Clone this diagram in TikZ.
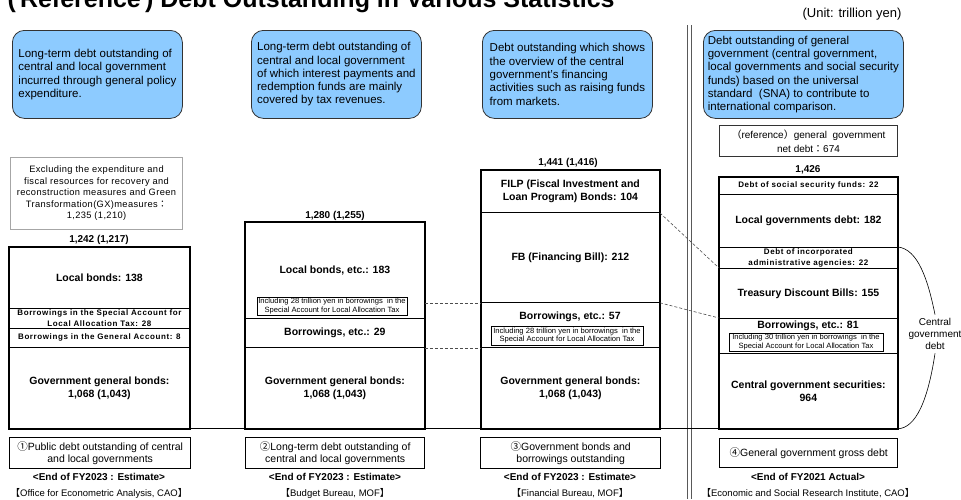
\documentclass[tikz,border=0pt]{standalone}
\usepackage{fontspec}
\setmainfont{Liberation Sans}
\newfontfamily\cjk{Noto Sans CJK JP}
\newfontfamily\wideA[LetterSpace=7.5]{Liberation Sans}
\newfontfamily\wideB[LetterSpace=4]{Liberation Sans}
\definecolor{bubblue}{HTML}{8DCBFF}

\begin{document}
\begin{tikzpicture}[x=1pt,y=-1pt,line width=0.8pt,
    bub/.style={draw=black!80,fill=bubblue,rounded corners=12pt,anchor=north west,
      align=left,inner sep=0pt,minimum height=88pt,font=\fontsize{11.5}{13.3}\selectfont},
    sec/.style={draw,anchor=north west,inner sep=0pt,align=center,
      font=\bfseries\fontsize{10.5}{13}\selectfont},
    smallsec/.style={font=\wideA\bfseries\fontsize{8}{11}\selectfont},
    note/.style={draw,line width=0.6pt,inner sep=0pt,align=center,
      font=\fontsize{7.6}{8.4}\selectfont},
    total/.style={font=\bfseries\fontsize{10}{12}\selectfont},
    lab/.style={draw,line width=1.4pt,anchor=north west,inner sep=0pt,align=center,
      font=\fontsize{10.5}{12}\selectfont},
    when/.style={font=\bfseries\fontsize{10}{12}\selectfont},
    src/.style={font=\fontsize{9.5}{11}\selectfont},
    link/.style={densely dashed,gray!60!black,line width=0.6pt}]
    \useasboundingbox (0,0) rectangle (961,499);
    \fill[white] (0,0) rectangle (961,499);

    % title and unit
    \node[font=\bfseries\fontsize{25}{30}\selectfont,anchor=base east,inner sep=0pt] (title) at (615,7)
      {(\,Reference\,)\;Debt Outstanding in Various Statistics};
    \node[font=\fontsize{13}{15}\selectfont] (unit) at (852,14) {(Unit: trillion yen)};

    % separator
    \draw[gray!70!black,line width=1pt] (687,25) -- (687,499) (691,25) -- (691,499);

    % bubbles
    \node[bub,minimum width=170pt] (bub1) at (12,30) {Long-term debt outstanding of\\central and local government\\incurred through general policy\\expenditure.};
    \node[bub,minimum width=170pt] (bub2) at (251,30) {Long-term debt outstanding of\\central and local government\\of which interest payments and\\redemption funds are mainly\\covered by tax revenues.};
    \node[bub,minimum width=170pt] (bub3) at (482,30) {Debt outstanding which shows\\the overview of the central\\government's financing\\activities such as raising funds\\from markets.};
    \node[bub,minimum width=200pt] (bub4) at (703,30) {Debt outstanding of general\\government (central government,\\local governments and social security\\funds) based on the universal\\standard~ (SNA) to contribute to\\international comparison.};

    % column 1
    \node[draw=gray!70,line width=1pt,anchor=north west,minimum width=172pt,minimum height=72pt,
      inner sep=0pt,align=center,font=\wideB\fontsize{9.3}{11.5}\selectfont] (excl1) at (10,157)
      {Excluding the expenditure and\\fiscal resources for recovery and\\reconstruction measures and Green\\Transformation(GX)measures{\cjk ：}\\1,235 (1,210)};
    \node[total] (t1) at (99,240) {1,242 (1,217)};
    \node[sec,minimum width=180pt,minimum height=61pt] (lb1) at (9,247) {Local bonds: 138};
    \node[sec,smallsec,minimum width=180pt,minimum height=20pt] (sa1) at (9,308) {Borrowings in the Special Account for\\Local Allocation Tax: 28};
    \node[sec,smallsec,minimum width=180pt,minimum height=19pt] (ga1) at (9,328) {Borrowings in the General Account: 8};
    \node[sec,minimum width=180pt,minimum height=81pt] (gb1) at (9,347) {Government general bonds:\\1,068 (1,043)};
    \draw[line width=1.6pt] (lb1.north west) rectangle (gb1.south east);

    % column 2
    \node[total] (t2) at (335,216) {1,280 (1,255)};
    \node[sec,minimum width=179pt,minimum height=96pt] (lb2) at (245,222) {Local bonds, etc.: 183};
    \node[note,minimum width=150pt,minimum height=18pt] (n2) at (332,306) {Including 28 trillion yen in borrowings~ in the\\Special Account for Local Allocation Tax};
    \node[sec,minimum width=179pt,minimum height=29pt] (br2) at (245,318) {Borrowings, etc.: 29};
    \node[sec,minimum width=179pt,minimum height=81pt] (gb2) at (245,347) {Government general bonds:\\1,068 (1,043)};
    \draw[line width=1.6pt] (lb2.north west) rectangle (gb2.south east);

    % column 3
    \node[total] (t3) at (568,163) {1,441 (1,416)};
    \node[sec,minimum width=178pt,minimum height=42pt] (fi3) at (481,170) {FILP (Fiscal Investment and\\Loan Program) Bonds: 104};
    \node[sec,minimum width=178pt,minimum height=90pt] (fb3) at (481,212) {FB (Financing Bill): 212};
    \node[sec,minimum width=178pt,minimum height=45pt] (br3) at (481,302) {};
    \node[font=\bfseries\fontsize{10.5}{13}\selectfont] (br3t) at (570,317) {Borrowings, etc.: 57};
    \node[note,minimum width=152pt,minimum height=19pt] (n3) at (567,335.5) {Including 28 trillion yen in borrowings~ in the\\Special Account for Local Allocation Tax};
    \node[sec,minimum width=178pt,minimum height=81pt] (gb3) at (481,347) {Government general bonds:\\1,068 (1,043)};
    \draw[line width=1.6pt] (fi3.north west) rectangle (gb3.south east);

    % column 4
    \node[draw=black!80,line width=1pt,anchor=north west,minimum width=178pt,minimum height=31pt,
      inner sep=0pt,align=center,font=\fontsize{10}{14}\selectfont] (ref4) at (719,125)
      {{\cjk （}reference{\cjk ）}general~ government\\net debt{\cjk ：}674};
    \node[total] (t4) at (808,170) {1,426};
    \node[sec,smallsec,minimum width=178pt,minimum height=17pt] (ss4) at (719,177) {Debt of social security funds: 22};
    \node[sec,minimum width=178pt,minimum height=53pt] (lg4) at (719,194) {Local governments debt: 182};
    \node[sec,smallsec,minimum width=178pt,minimum height=21pt] (ag4) at (719,247) {Debt of incorporated\\administrative agencies: 22};
    \node[sec,minimum width=178pt,minimum height=50pt] (td4) at (719,268) {Treasury Discount Bills: 155};
    \node[sec,minimum width=178pt,minimum height=35pt] (br4) at (719,318) {};
    \node[font=\bfseries\fontsize{10.5}{13}\selectfont] (br4t) at (808,326) {Borrowings, etc.: 81};
    \node[note,minimum width=154pt,minimum height=18pt] (n4) at (806,342) {Including 30 trillion yen in borrowings~ in the\\Special Account for Local Allocation Tax};
    \node[sec,minimum width=178pt,minimum height=75pt] (cg4) at (719,353) {Central government securities:\\964};
    \draw[line width=1.6pt] (ss4.north west) rectangle (cg4.south east);

    % base line and links
    \draw (gb1.south west) -- (cg4.south east);
    \draw[link] (lb2.east |- fb3.south west) -- (fb3.south west);
    \draw[link] (br2.south east) -- (br3.south west);
    \draw[link] (fi3.south east) -- (td4.north west);
    \draw[link] (fb3.south east) -- (br4.north west);

    % central government debt
    \node[font=\fontsize{10}{12}\selectfont,align=center] (cgd) at (935,334) {Central\\government\\debt};
    \draw[line width=0.6pt] (ag4.north east) .. controls (918,249) and (928,280) .. (cgd.north);
    \draw[line width=0.6pt] (cgd.south) .. controls (928,400) and (916,428) .. (cg4.south east);

    % labels
    \node[lab,minimum width=181pt,minimum height=31pt] (lab1) at (9,437) {{\cjk ①}Public debt outstanding of central\\and local governments};
    \node[lab,minimum width=179pt,minimum height=31pt] (lab2) at (245,437) {{\cjk ②}Long-term debt outstanding of\\central and local governments};
    \node[lab,minimum width=180pt,minimum height=31pt] (lab3) at (480,437) {{\cjk ③}Government bonds and\\borrowings outstanding};
    \node[lab,minimum width=178pt,minimum height=29pt] (lab4) at (719,438) {{\cjk ④}General government gross debt};

    \node[when] (w1) at (99,477) {<End of FY2023 : Estimate>};
    \node[when] (w2) at (335,477) {<End of FY2023 : Estimate>};
    \node[when] (w3) at (570,477) {<End of FY2023 : Estimate>};
    \node[when] (w4) at (808,477) {<End of FY2021 Actual>};

    \node[src] (s1) at (99,493) {{\cjk 【}Office for Econometric Analysis, CAO{\cjk 】}};
    \node[src] (s2) at (335,493) {{\cjk 【}Budget Bureau, MOF{\cjk 】}};
    \node[src] (s3) at (570,493) {{\cjk 【}Financial Bureau, MOF{\cjk 】}};
    \node[src] (s4) at (808,493) {{\cjk 【}Economic and Social Research Institute, CAO{\cjk 】}};
\end{tikzpicture}
\end{document}
